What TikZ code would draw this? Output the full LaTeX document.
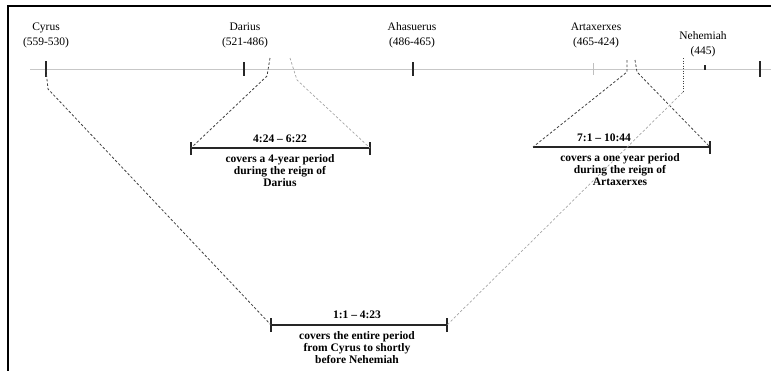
\documentclass[tikz,border=0pt]{standalone}
\usepackage{fontspec}
\setmainfont{Liberation Serif}
\begin{document}
\begin{tikzpicture}[x=1pt,y=-1pt,
  lbl/.style={font=\fontsize{11.5}{15}\selectfont, align=center, inner sep=0pt},
  btxt/.style={font=\fontsize{11.5}{12}\selectfont\bfseries, align=center, inner sep=0pt},
  tick/.style={line width=1.1pt, black!85},
  ltick/.style={line width=0.8pt, black!25},
  dline/.style={dash pattern=on 2.5pt off 2pt, line width=0.8pt, black!75},
  lline/.style={dash pattern=on 2.5pt off 2pt, line width=0.7pt, black!35},
  bar/.style={line width=1.3pt, black!85}]
\useasboundingbox (0,0) rectangle (771,370);
% frame
\draw[line width=1.8pt] (8,371) -- (8,6) -- (772,6);
% timeline
\coordinate (tlA) at (30,69);
\coordinate (tlB) at (771,69);
\draw[line width=1pt, black!22] (tlA) -- (tlB);
% labels
\node[lbl] (cyrus) at (46,35) {Cyrus\\(559-530)};
\node[lbl] (darius) at (245,35) {Darius\\(521-486)};
\node[lbl] (ahas) at (412,35) {Ahasuerus\\(486-465)};
\node[lbl] (artax) at (596,35) {Artaxerxes\\(465-424)};
\node[lbl] (nehem) at (703,44) {Nehemiah\\(445)};
% ticks
\draw[tick] (46,61) -- (46,77);
\draw[tick] (244,62) -- (244,76);
\draw[tick] (413,62) -- (413,76);
\draw[tick] (760,61) -- (760,77);
\draw[tick] (705,65) -- (705,70);
\draw[ltick] (593,63) -- (593,75);
% brackets
\coordinate (mL) at (191,148); \coordinate (mR) at (370,148);
\coordinate (rL) at (533,147); \coordinate (rR) at (710,147);
\coordinate (bL) at (271,325); \coordinate (bR) at (447,325);
\draw[bar] (mL) -- (mR);
\draw[bar] ([yshift=-7pt]mL) -- ([yshift=6pt]mL);
\draw[bar] ([yshift=-7pt]mR) -- ([yshift=6pt]mR);
\draw[bar] (rL) -- (rR);
\draw[bar] ([yshift=-7pt]rR) -- ([yshift=6pt]rR);
\draw[bar] (bL) -- (bR);
\draw[bar] ([yshift=-7pt]bL) -- ([yshift=7pt]bL);
\draw[bar] ([yshift=-7pt]bR) -- ([yshift=7pt]bR);
\node[btxt] (mT) at (280,139) {4:24 -- 6:22};
\node[btxt] (mB) at (280,171) {covers a 4-year period\\during the reign of\\Darius};
\node[btxt] (rT) at (604,138) {7:1 -- 10:44};
\node[btxt] (rB) at (620,170) {covers a one year period\\during the reign of\\Artaxerxes};
\node[btxt] (bT) at (357,315) {1:1 -- 4:23};
\node[btxt] (bB) at (357,348) {covers the entire period\\from Cyrus to shortly\\before Nehemiah};
% connectors
\coordinate (cy0) at (46,70); \coordinate (cy1) at (48,89);
\draw[dline] (cy0) -- (cy1) -- (bL);
\coordinate (da0) at (270,58); \coordinate (da1) at (267,76);
\draw[dline] (da0) -- (da1) -- (mL);
\coordinate (db0) at (290,58); \coordinate (db1) at (297,80);
\draw[lline] (db0) -- (db1) -- (mR);
\coordinate (ar0) at (627,60); \coordinate (ar1) at (627,72);
\draw[dline] (ar0) -- (ar1) -- (rL);
\coordinate (as0) at (635,60); \coordinate (as1) at (637,72);
\draw[dline] (as0) -- (as1) -- (rR);
\coordinate (ne0) at (683,58); \coordinate (ne1) at (683,92);
\draw[dline, dash pattern=on 1pt off 1.5pt] (ne0) -- (ne1);
\draw[lline] (ne1) -- (bR);
\end{tikzpicture}
\end{document}
